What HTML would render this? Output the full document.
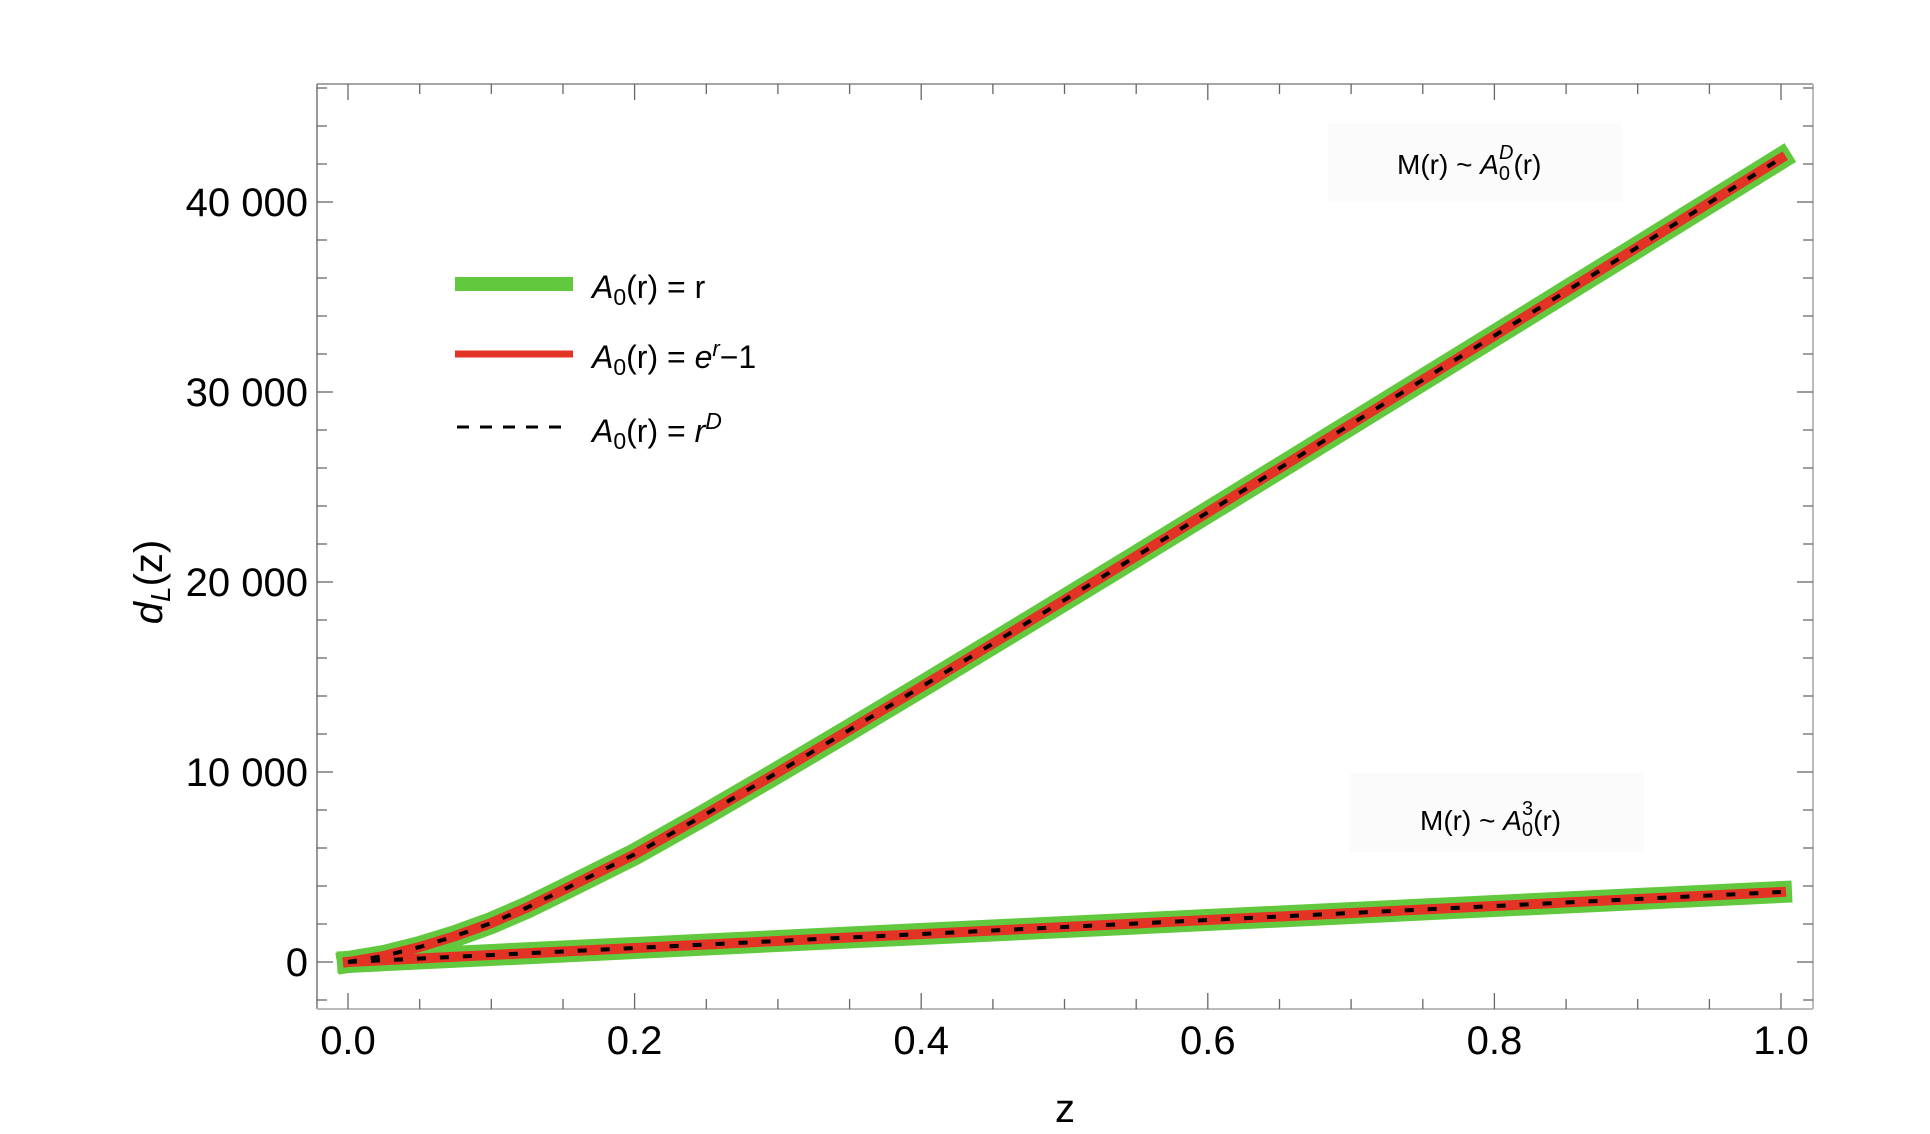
<!DOCTYPE html>
<html><head><meta charset="utf-8"><style>html,body{margin:0;padding:0;background:#fff;}svg{display:block}</style></head>
<body>
<svg width="1930" height="1134" viewBox="0 0 1930 1134" xmlns="http://www.w3.org/2000/svg" font-family="Liberation Sans, sans-serif">
<rect width="1930" height="1134" fill="#fff"/>
<rect x="1328" y="123" width="294" height="79" fill="#fbfbfb"/>
<rect x="1350" y="773" width="294" height="79" fill="#fbfbfb"/>
<g fill="none">
<line x1="317" y1="84" x2="1813" y2="84" stroke="#888" stroke-width="1.5"/>
<line x1="1813" y1="84" x2="1813" y2="1009" stroke="#bbb" stroke-width="2"/>
<line x1="317" y1="84" x2="317" y2="1009" stroke="#777" stroke-width="1.5"/>
<line x1="317" y1="1009" x2="1813" y2="1009" stroke="#bbb" stroke-width="2"/>
</g>
<g stroke="#666" stroke-width="1.3">
<line x1="348" y1="1009" x2="348" y2="993"/><line x1="634.6" y1="1009" x2="634.6" y2="993"/><line x1="921.2" y1="1009" x2="921.2" y2="993"/><line x1="1207.8" y1="1009" x2="1207.8" y2="993"/><line x1="1494.4" y1="1009" x2="1494.4" y2="993"/><line x1="1781" y1="1009" x2="1781" y2="993"/>
<line x1="348" y1="84" x2="348" y2="100"/><line x1="634.6" y1="84" x2="634.6" y2="100"/><line x1="921.2" y1="84" x2="921.2" y2="100"/><line x1="1207.8" y1="84" x2="1207.8" y2="100"/><line x1="1494.4" y1="84" x2="1494.4" y2="100"/><line x1="1781" y1="84" x2="1781" y2="100"/>
<line x1="419.7" y1="1009" x2="419.7" y2="999"/><line x1="491.3" y1="1009" x2="491.3" y2="999"/><line x1="563" y1="1009" x2="563" y2="999"/>
<line x1="706.3" y1="1009" x2="706.3" y2="999"/><line x1="777.9" y1="1009" x2="777.9" y2="999"/><line x1="849.6" y1="1009" x2="849.6" y2="999"/>
<line x1="992.9" y1="1009" x2="992.9" y2="999"/><line x1="1064.5" y1="1009" x2="1064.5" y2="999"/><line x1="1136.2" y1="1009" x2="1136.2" y2="999"/>
<line x1="1279.5" y1="1009" x2="1279.5" y2="999"/><line x1="1351.1" y1="1009" x2="1351.1" y2="999"/><line x1="1422.8" y1="1009" x2="1422.8" y2="999"/>
<line x1="1566.1" y1="1009" x2="1566.1" y2="999"/><line x1="1637.7" y1="1009" x2="1637.7" y2="999"/><line x1="1709.4" y1="1009" x2="1709.4" y2="999"/>
<line x1="419.7" y1="84" x2="419.7" y2="94"/><line x1="491.3" y1="84" x2="491.3" y2="94"/><line x1="563" y1="84" x2="563" y2="94"/>
<line x1="706.3" y1="84" x2="706.3" y2="94"/><line x1="777.9" y1="84" x2="777.9" y2="94"/><line x1="849.6" y1="84" x2="849.6" y2="94"/>
<line x1="992.9" y1="84" x2="992.9" y2="94"/><line x1="1064.5" y1="84" x2="1064.5" y2="94"/><line x1="1136.2" y1="84" x2="1136.2" y2="94"/>
<line x1="1279.5" y1="84" x2="1279.5" y2="94"/><line x1="1351.1" y1="84" x2="1351.1" y2="94"/><line x1="1422.8" y1="84" x2="1422.8" y2="94"/>
<line x1="1566.1" y1="84" x2="1566.1" y2="94"/><line x1="1637.7" y1="84" x2="1637.7" y2="94"/><line x1="1709.4" y1="84" x2="1709.4" y2="94"/>
<line x1="317" y1="962" x2="333" y2="962"/><line x1="317" y1="772" x2="333" y2="772"/><line x1="317" y1="582" x2="333" y2="582"/><line x1="317" y1="392" x2="333" y2="392"/><line x1="317" y1="202" x2="333" y2="202"/>
<line x1="1813" y1="962" x2="1797" y2="962"/><line x1="1813" y1="772" x2="1797" y2="772"/><line x1="1813" y1="582" x2="1797" y2="582"/><line x1="1813" y1="392" x2="1797" y2="392"/><line x1="1813" y1="202" x2="1797" y2="202"/>
<path d="M317 1000h10M317 924h10M317 886h10M317 848h10M317 810h10M317 734h10M317 696h10M317 658h10M317 620h10M317 544h10M317 506h10M317 468h10M317 430h10M317 354h10M317 316h10M317 278h10M317 240h10M317 164h10M317 126h10M317 88h10
M1813 1000h-10M1813 924h-10M1813 886h-10M1813 848h-10M1813 810h-10M1813 734h-10M1813 696h-10M1813 658h-10M1813 620h-10M1813 544h-10M1813 506h-10M1813 468h-10M1813 430h-10M1813 354h-10M1813 316h-10M1813 278h-10M1813 240h-10M1813 164h-10M1813 126h-10M1813 88h-10"/>
</g>
<g font-size="40" fill="#000">
<g text-anchor="end">
<text x="308" y="976">0</text>
<text x="308" y="786">10 000</text>
<text x="308" y="596">20 000</text>
<text x="308" y="406">30 000</text>
<text x="308" y="216">40 000</text>
</g>
<g text-anchor="middle">
<text x="348" y="1054">0.0</text>
<text x="634.6" y="1054">0.2</text>
<text x="921.2" y="1054">0.4</text>
<text x="1207.8" y="1054">0.6</text>
<text x="1494.4" y="1054">0.8</text>
<text x="1781" y="1054">1.0</text>
</g>
<text x="1065" y="1122" text-anchor="middle">z</text>
<text transform="translate(162,582) rotate(-90)" text-anchor="middle"><tspan font-style="italic">d</tspan><tspan font-size="28" font-style="italic" dy="8">L</tspan><tspan dy="-8">(z)</tspan></text>
</g>
<g fill="none" stroke-linejoin="round">
<polyline points="348,962 383.8,956 419.7,947 455.5,936 491.3,923 527.2,907.5 563,890 634.6,854.3 706.3,813.9 777.9,772.3 849.6,729.8 921.2,686.9 992.9,643.5 1064.5,600 1136.2,556.2 1207.8,512.3 1279.5,468.2 1351.1,424.1 1422.8,379.9 1494.4,335.7 1566.1,291.4 1637.7,247.1 1709.4,202.7 1781,158.3" stroke="#62c83e" stroke-width="22" stroke-linecap="square"/>
<line x1="348" y1="962" x2="1781" y2="892" stroke="#62c83e" stroke-width="22" stroke-linecap="square"/>
<polyline points="348,962 383.8,956 419.7,947 455.5,936 491.3,923 527.2,907.5 563,890 634.6,854.3 706.3,813.9 777.9,772.3 849.6,729.8 921.2,686.9 992.9,643.5 1064.5,600 1136.2,556.2 1207.8,512.3 1279.5,468.2 1351.1,424.1 1422.8,379.9 1494.4,335.7 1566.1,291.4 1637.7,247.1 1709.4,202.7 1781,158.3" stroke="#e33325" stroke-width="10" stroke-linecap="square"/>
<line x1="348" y1="962" x2="1781" y2="892" stroke="#e33325" stroke-width="10" stroke-linecap="square"/>
<polyline points="348,962 383.8,956 419.7,947 455.5,936 491.3,923 527.2,907.5 563,890 634.6,854.3 706.3,813.9 777.9,772.3 849.6,729.8 921.2,686.9 992.9,643.5 1064.5,600 1136.2,556.2 1207.8,512.3 1279.5,468.2 1351.1,424.1 1422.8,379.9 1494.4,335.7 1566.1,291.4 1637.7,247.1 1709.4,202.7 1781,158.3" stroke="#000" stroke-width="4" stroke-dasharray="9 14"/>
<line x1="348" y1="962" x2="1781" y2="892" stroke="#000" stroke-width="4" stroke-dasharray="9 14"/>
</g>
<line x1="455" y1="284" x2="573" y2="284" stroke="#62c83e" stroke-width="14"/>
<line x1="455" y1="354" x2="573" y2="354" stroke="#e33325" stroke-width="7"/>
<line x1="457" y1="427" x2="565" y2="427" stroke="#000" stroke-width="3" stroke-dasharray="12 11"/>
<g font-size="32" fill="#000">
<text x="592" y="298"><tspan font-style="italic">A</tspan><tspan font-size="23" dy="7">0</tspan><tspan dy="-7">(r) = r</tspan></text>
<text x="592" y="368"><tspan font-style="italic">A</tspan><tspan font-size="23" dy="7">0</tspan><tspan dy="-7">(r) = </tspan><tspan font-style="italic">e</tspan><tspan font-size="22" font-style="italic" dy="-12">r</tspan><tspan dy="12">−1</tspan></text>
<text x="592" y="442"><tspan font-style="italic">A</tspan><tspan font-size="23" dy="7">0</tspan><tspan dy="-7">(r) = </tspan><tspan font-style="italic">r</tspan><tspan font-size="23" font-style="italic" dy="-13">D</tspan></text>
</g>
<g font-size="28" fill="#000">
<text x="1397" y="174">M(r) ~ <tspan font-style="italic">A</tspan><tspan font-size="20" dy="6">0</tspan><tspan font-size="20" font-style="italic" dx="-11" dy="-21">D</tspan><tspan dy="15">(r)</tspan></text>
<text x="1420" y="830">M(r) ~ <tspan font-style="italic">A</tspan><tspan font-size="20" dy="6">0</tspan><tspan font-size="20" dx="-11" dy="-21">3</tspan><tspan dy="15">(r)</tspan></text>
</g>
</svg>
</body></html>
